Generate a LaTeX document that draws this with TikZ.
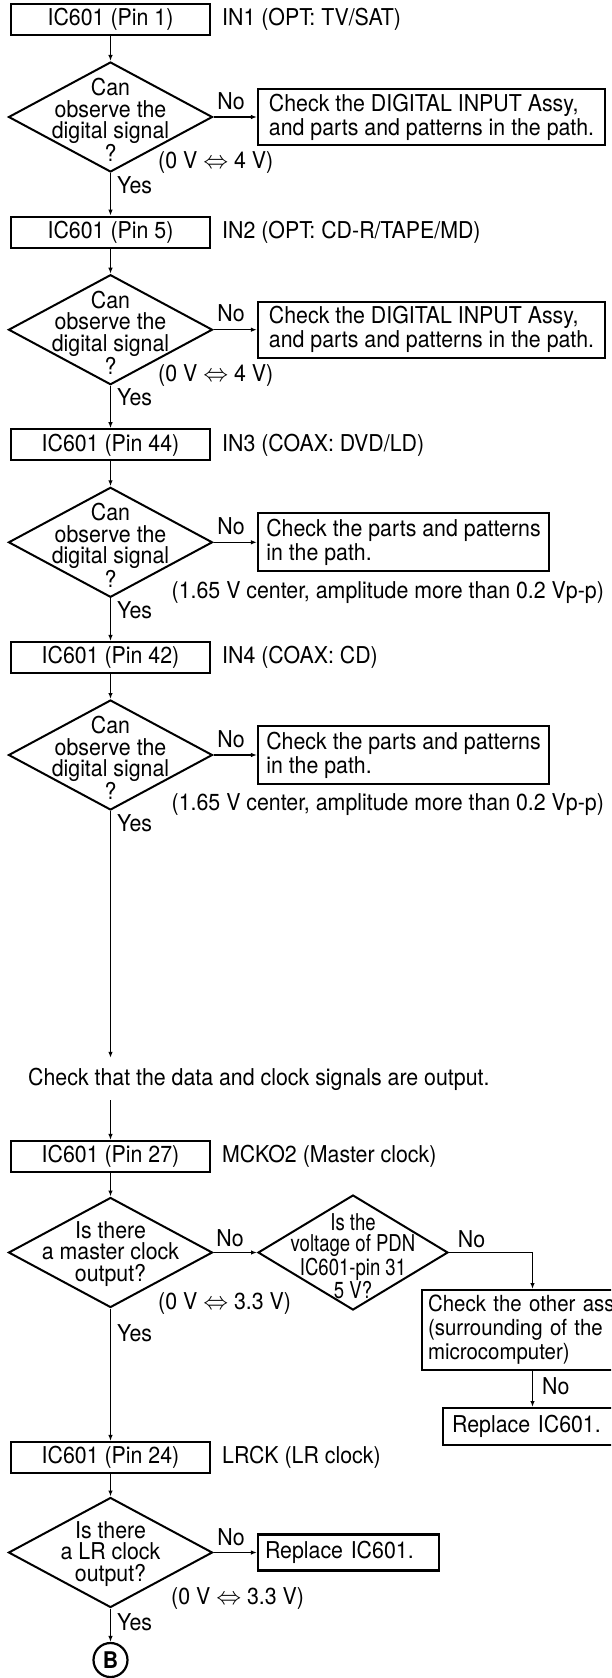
\documentclass[tikz,border=0pt]{standalone}
\usepackage{fontspec}
\setmainfont[FakeStretch=0.92]{TeX Gyre Heros}
\newfontfamily\condfont[FakeStretch=0.8]{TeX Gyre Heros}
\usetikzlibrary{shapes.geometric,arrows.meta,calc}
\begin{document}
\begin{tikzpicture}[x=1pt,y=-1pt,
  every node/.style={font=\fontsize{23.2}{24}\selectfont, inner sep=0pt},
  pinbox/.style={draw, line width=2.2pt, minimum width=199pt, minimum height=31pt},
  dia/.style={draw, diamond, line width=2pt, minimum width=204pt, minimum height=110pt},
  dtext/.style={align=center, font=\fontsize{23.2}{21.5}\selectfont},
  chkbox/.style={draw, line width=2.2pt, align=left, inner xsep=8pt},
  conn/.style={line width=1.2pt, -{Latex[length=6pt,width=4.5pt]}},
  lbl/.style={anchor=west},
]
\useasboundingbox (0,0) rectangle (611,1678);
\clip (0,0) rectangle (611,1678);

% ---------- stage 1 ----------
\node[pinbox] (b1) at (110.5,19.5) {IC601 (Pin 1)};
\node[lbl] (l1) at (222,19.5) {IN1 (OPT: TV/SAT)};
\node[dia] (d1) at (110.5,117) {};
\node[dtext] (d1t) at (110.5,120) {Can\\observe the\\digital signal\\?};
\node[chkbox, minimum width=347pt, minimum height=56pt] (c1) at (431.5,117) {Check the DIGITAL INPUT Assy,\\and parts and patterns in the path.};
\node (n1) at (231,101) {No};
\node[lbl] (v1) at (158,163) {(0 V $\Leftrightarrow$ 4 V)};
\node[lbl] (y1) at (117,185) {Yes};
\draw[conn] (b1) -- (d1);
\draw[conn] (d1.east) -- (c1.west);

% ---------- stage 2 ----------
\node[pinbox] (b2) at (110.5,232.2) {IC601 (Pin 5)};
\node[lbl] (l2) at (222,232.2) {IN2 (OPT: CD-R/TAPE/MD)};
\node[dia] (d2) at (110.5,329.7) {};
\node[dtext] (d2t) at (110.5,332.7) {Can\\observe the\\digital signal\\?};
\node[chkbox, minimum width=347pt, minimum height=56pt] (c2) at (431.5,329.7) {Check the DIGITAL INPUT Assy,\\and parts and patterns in the path.};
\node (n2) at (231,313.7) {No};
\node[lbl] (v2) at (158,375.7) {(0 V $\Leftrightarrow$ 4 V)};
\node[lbl] (y2) at (117,397.7) {Yes};
\draw[conn] (d1) -- (b2);
\draw[conn] (b2) -- (d2);
\draw[conn] (d2.east) -- (c2.west);

% ---------- stage 3 ----------
\node[pinbox] (b3) at (110.5,444.8) {IC601 (Pin 44)};
\node[lbl] (l3) at (222,444.8) {IN3 (COAX: DVD/LD)};
\node[dia] (d3) at (110.5,542.3) {};
\node[dtext] (d3t) at (110.5,545.3) {Can\\observe the\\digital signal\\?};
\node[chkbox, minimum width=291pt, minimum height=58pt] (c3) at (403.5,542.3) {Check the parts and patterns\\in the path.};
\node (n3) at (231,526.3) {No};
\node[lbl] (v3) at (171.5,592.3) {(1.65 V center, amplitude more than 0.2 Vp-p)};
\node[lbl] (y3) at (117,610.3) {Yes};
\draw[conn] (d2) -- (b3);
\draw[conn] (b3) -- (d3);
\draw[conn] (d3.east) -- (c3.west);

% ---------- stage 4 ----------
\node[pinbox] (b4) at (110.5,657.5) {IC601 (Pin 42)};
\node[lbl] (l4) at (222,657.5) {IN4 (COAX: CD)};
\node[dia] (d4) at (110.5,755) {};
\node[dtext] (d4t) at (110.5,758) {Can\\observe the\\digital signal\\?};
\node[chkbox, minimum width=291pt, minimum height=58pt] (c4) at (403.5,755) {Check the parts and patterns\\in the path.};
\node (n4) at (231,739) {No};
\node[lbl] (v4) at (171.5,805) {(1.65 V center, amplitude more than 0.2 Vp-p)};
\node[lbl] (y4) at (117,823) {Yes};
\draw[conn] (d3) -- (b4);
\draw[conn] (b4) -- (d4);
\draw[conn] (d4.east) -- (c4.west);

% ---------- data / clock check ----------
\node[lbl, outer ysep=10pt] (cd) at (28,1079) {Check that the data and clock signals are output.};
\draw[conn] (d4.south) -- (d4.south |- cd.north);

\node[pinbox] (b5) at (110.5,1156.5) {IC601 (Pin 27)};
\node[lbl] (l5) at (222,1156.5) {MCKO2 (Master clock)};
\draw[conn] (cd.south -| b5.north) -- (b5.north);

\node[dia] (dm) at (110.5,1252.5) {};
\node[dtext] (dmt) at (110.5,1254) {Is there\\a master clock\\output?};
\node (nm) at (230,1238) {No};
\node[lbl] (vm) at (158,1303) {(0 V $\Leftrightarrow$ 3.3 V)};
\node[lbl] (ym) at (117,1333) {Yes};
\draw[conn] (b5) -- (dm);

\node[dia, minimum width=190pt, minimum height=115pt] (dp) at (353,1252.5) {};
\node[dtext, font=\condfont\fontsize{23.2}{21.6}\selectfont] (dpt) at (353,1256) {Is the\\voltage of PDN\\IC601-pin 31\\5 V?};
\node (np) at (471.5,1239) {No};
\draw[conn] (dm.east) -- (dp.west);

\coordinate (cx) at (532.5,0);
\node[chkbox, inner xsep=6pt, text width=230pt, minimum height=80pt, anchor=north west, font=\fontsize{22.2}{24}\selectfont] (co) at (421,1289) {Check the other ass\\(surrounding of the\\microcomputer)};
\draw[conn] (dp.east) -| (co.north west -| cx);

\node[chkbox, inner xsep=9pt, text width=200pt, minimum height=37pt, anchor=north west] (ru) at (442,1407) {Replace IC601.};
\node[lbl] (nu) at (542,1386) {No};
\draw[conn] (co.south west -| cx) -- (ru.north west -| cx);

% ---------- LR clock ----------
\node[pinbox] (b6) at (110.5,1457.5) {IC601 (Pin 24)};
\node[lbl] (l6) at (222,1457.5) {LRCK (LR clock)};
\draw[conn] (dm) -- (b6);

\node[dia] (dl) at (110.5,1552.5) {};
\node[dtext] (dlt) at (110.5,1554) {Is there\\a LR clock\\output?};
\node (nl) at (231,1537) {No};
\node[lbl] (vl) at (171,1598) {(0 V $\Leftrightarrow$ 3.3 V)};
\node[lbl] (yl) at (117,1622) {Yes};
\draw[conn] (b6) -- (dl);

\node[chkbox, inner xsep=7pt, text width=167pt, minimum height=36pt] (rl) at (348.5,1552.5) {Replace IC601.};
\draw[conn] (dl.east) -- (rl.west);

\node[draw, circle, line width=2.2pt, minimum size=34pt, font=\bfseries\fontsize{23}{24}\selectfont] (bB) at (110.5,1660) {B};
\draw[conn] (dl) -- (bB);
\end{tikzpicture}
\end{document}
